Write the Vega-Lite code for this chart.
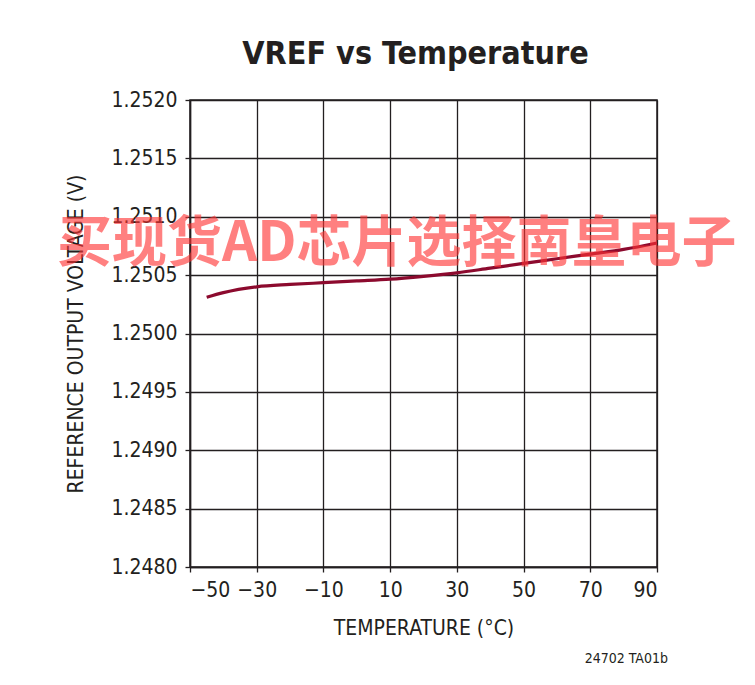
{
  "$schema": "https://vega.github.io/schema/vega-lite/v6.json",
  "autosize": "none",
  "padding": {"left": 190, "top": 100, "right": 98, "bottom": 118},
  "width": 467,
  "height": 467,
  "background": "white",
  "config": {
    "font": "DejaVu Sans Condensed, Roboto, sans-serif",
    "view": {"stroke": "#231f20", "strokeWidth": 1.5}
  },
  "title": {
    "text": "VREF vs Temperature",
    "font": "DejaVu Sans Condensed, Roboto, sans-serif",
    "fontSize": 32,
    "fontWeight": "bold",
    "color": "#231f20",
    "anchor": "middle",
    "offset": 18,
    "dx": -8
  },
  "datasets": {
    "curve": [
      {"temp": -45, "vref": 1.25031},
      {"temp": -40, "vref": 1.25035},
      {"temp": -30, "vref": 1.25040},
      {"temp": -20, "vref": 1.25042},
      {"temp": -10, "vref": 1.250435},
      {"temp": 0, "vref": 1.25045},
      {"temp": 10, "vref": 1.250465},
      {"temp": 20, "vref": 1.25049},
      {"temp": 30, "vref": 1.25052},
      {"temp": 40, "vref": 1.25056},
      {"temp": 50, "vref": 1.2506},
      {"temp": 60, "vref": 1.25064},
      {"temp": 70, "vref": 1.25068},
      {"temp": 80, "vref": 1.25072},
      {"temp": 90, "vref": 1.250775}
    ],
    "notes": [
      {"temp": 12, "vref": 1.25077, "label": "买现货AD芯片选择南皇电子", "kind": "watermark"},
      {"temp": 90, "vref": 1.248, "label": "24702 TA01b", "kind": "footnote"}
    ]
  },
  "layer": [
    {
      "data": {"name": "curve"},
      "mark": {"type": "line", "color": "#8c0a2e", "strokeWidth": 3.2, "interpolate": "monotone"},
      "encoding": {
        "x": {
          "field": "temp", "type": "quantitative",
          "scale": {"domain": [-50, 90], "nice": false, "zero": false},
          "axis": {
            "title": "TEMPERATURE (°C)",
            "values": [-50, -30, -10, 10, 30, 50, 70, 90],
            "labelExpr": "replace(datum.label, '-', '–')",
            "labelFontSize": 21, "labelColor": "#231f20", "labelPadding": 7,
            "titleFontSize": 21, "titleFontWeight": "normal", "titleColor": "#231f20", "titlePadding": 17,
            "grid": true, "gridColor": "#231f20", "gridWidth": 1.3, "gridOpacity": 1,
            "domainColor": "#231f20", "domainWidth": 1.5,
            "tickColor": "#231f20", "tickSize": 5, "tickWidth": 1.3
          }
        },
        "y": {
          "field": "vref", "type": "quantitative",
          "scale": {"domain": [1.248, 1.252], "nice": false, "zero": false},
          "axis": {
            "title": "REFERENCE OUTPUT VOLTAGE (V)",
            "values": [1.248, 1.2485, 1.249, 1.2495, 1.25, 1.2505, 1.251, 1.2515, 1.252],
            "format": ".4f",
            "labelFontSize": 21, "labelColor": "#231f20", "labelPadding": 8,
            "titleFontSize": 21, "titleFontWeight": "normal", "titleColor": "#231f20", "titlePadding": 24,
            "grid": true, "gridColor": "#231f20", "gridWidth": 1.3, "gridOpacity": 1,
            "domainColor": "#231f20", "domainWidth": 1.5,
            "tickColor": "#231f20", "tickSize": 5, "tickWidth": 1.3
          }
        }
      }
    },
    {
      "data": {"name": "notes"},
      "transform": [{"filter": "datum.kind === 'watermark'"}],
      "mark": {"type": "text", "font": "Noto Sans CJK SC", "fontWeight": "bold", "fontSize": 55, "color": "#ff3333", "opacity": 0.62, "align": "center", "baseline": "middle"},
      "encoding": {
        "x": {"field": "temp", "type": "quantitative"},
        "y": {"field": "vref", "type": "quantitative"},
        "text": {"field": "label"}
      }
    },
    {
      "data": {"name": "notes"},
      "transform": [{"filter": "datum.kind === 'footnote'"}],
      "mark": {"type": "text", "fontSize": 14, "color": "#231f20", "align": "right", "baseline": "middle", "dx": 11, "dy": 92},
      "encoding": {
        "x": {"field": "temp", "type": "quantitative"},
        "y": {"field": "vref", "type": "quantitative"},
        "text": {"field": "label"}
      }
    }
  ]
}
